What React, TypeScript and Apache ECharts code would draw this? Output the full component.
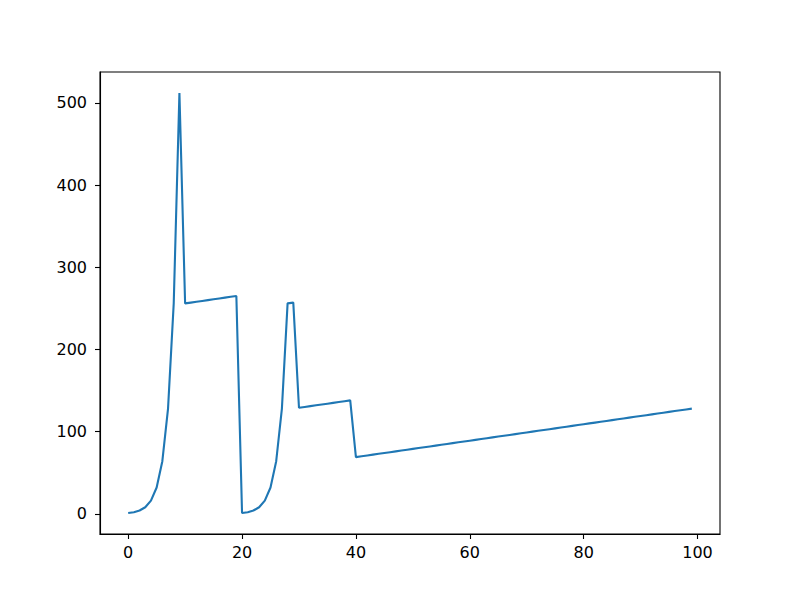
import React, { useEffect, useRef } from "react";
import * as echarts from "echarts";

const values: number[] = [
  1, 2, 4, 8, 16, 32, 64, 128, 256, 512,
  256, 257, 258, 259, 260, 261, 262, 263, 264, 265,
  1, 2, 4, 8, 16, 32, 64, 128, 256, 257,
  129, 130, 131, 132, 133, 134, 135, 136, 137, 138,
  69, 70, 71, 72, 73, 74, 75, 76, 77, 78,
  79, 80, 81, 82, 83, 84, 85, 86, 87, 88,
  89, 90, 91, 92, 93, 94, 95, 96, 97, 98,
  99, 100, 101, 102, 103, 104, 105, 106, 107, 108,
  109, 110, 111, 112, 113, 114, 115, 116, 117, 118,
  119, 120, 121, 122, 123, 124, 125, 126, 127, 128,
];
const xTicks: number[] = [0, 20, 40, 60, 80, 100];
const yTicks: number[] = [0, 100, 200, 300, 400, 500];

export default function App() {
  const ref = useRef<HTMLDivElement>(null);
  useEffect(() => {
    if (!ref.current) return;
    const chart = echarts.init(ref.current, undefined, { renderer: "svg" });
    const n = values.length;
    const xMin = 0, xMax = n - 1;
    const xPad = (xMax - xMin) * 0.05;
    const yMin = Math.min(...values), yMax = Math.max(...values);
    const yPad = (yMax - yMin) * 0.05;
    const font = { fontFamily: "DejaVu Sans", fontSize: 16, color: "#000" };
    chart.setOption({
      animation: false,
      backgroundColor: "#fff",
      grid: {
        left: 100, right: 80, top: 72, bottom: 66,
        show: true, borderColor: "#000", borderWidth: 1.1,
      },
      xAxis: {
        type: "value",
        min: xMin - xPad,
        max: xMax + xPad,
        splitLine: { show: false },
        axisLine: { show: true, onZero: false, lineStyle: { color: "#000", width: 1.1 } },
        axisTick: { show: true, length: 5, lineStyle: { color: "#000", width: 1.1 }, customValues: xTicks },
        axisLabel: { ...font, margin: 10, customValues: xTicks },
      },
      yAxis: {
        type: "value",
        min: yMin - yPad,
        max: yMax + yPad,
        splitLine: { show: false },
        axisLine: { show: true, onZero: false, lineStyle: { color: "#000", width: 1.1 } },
        axisTick: { show: true, length: 5, lineStyle: { color: "#000", width: 1.1 }, customValues: yTicks },
        axisLabel: { ...font, margin: 13, customValues: yTicks },
      },
      series: [
        {
          type: "line",
          data: values.map((v, i) => [i, v]),
          showSymbol: false,
          lineStyle: { color: "#1f77b4", width: 2.1 },
          itemStyle: { color: "#1f77b4" },
        },
      ],
    });
    return () => chart.dispose();
  }, []);
  return (
    <div
      ref={ref}
      style={{ position: "absolute", left: 0, top: 0, width: 800, height: 600, background: "#fff" }}
    />
  );
}
